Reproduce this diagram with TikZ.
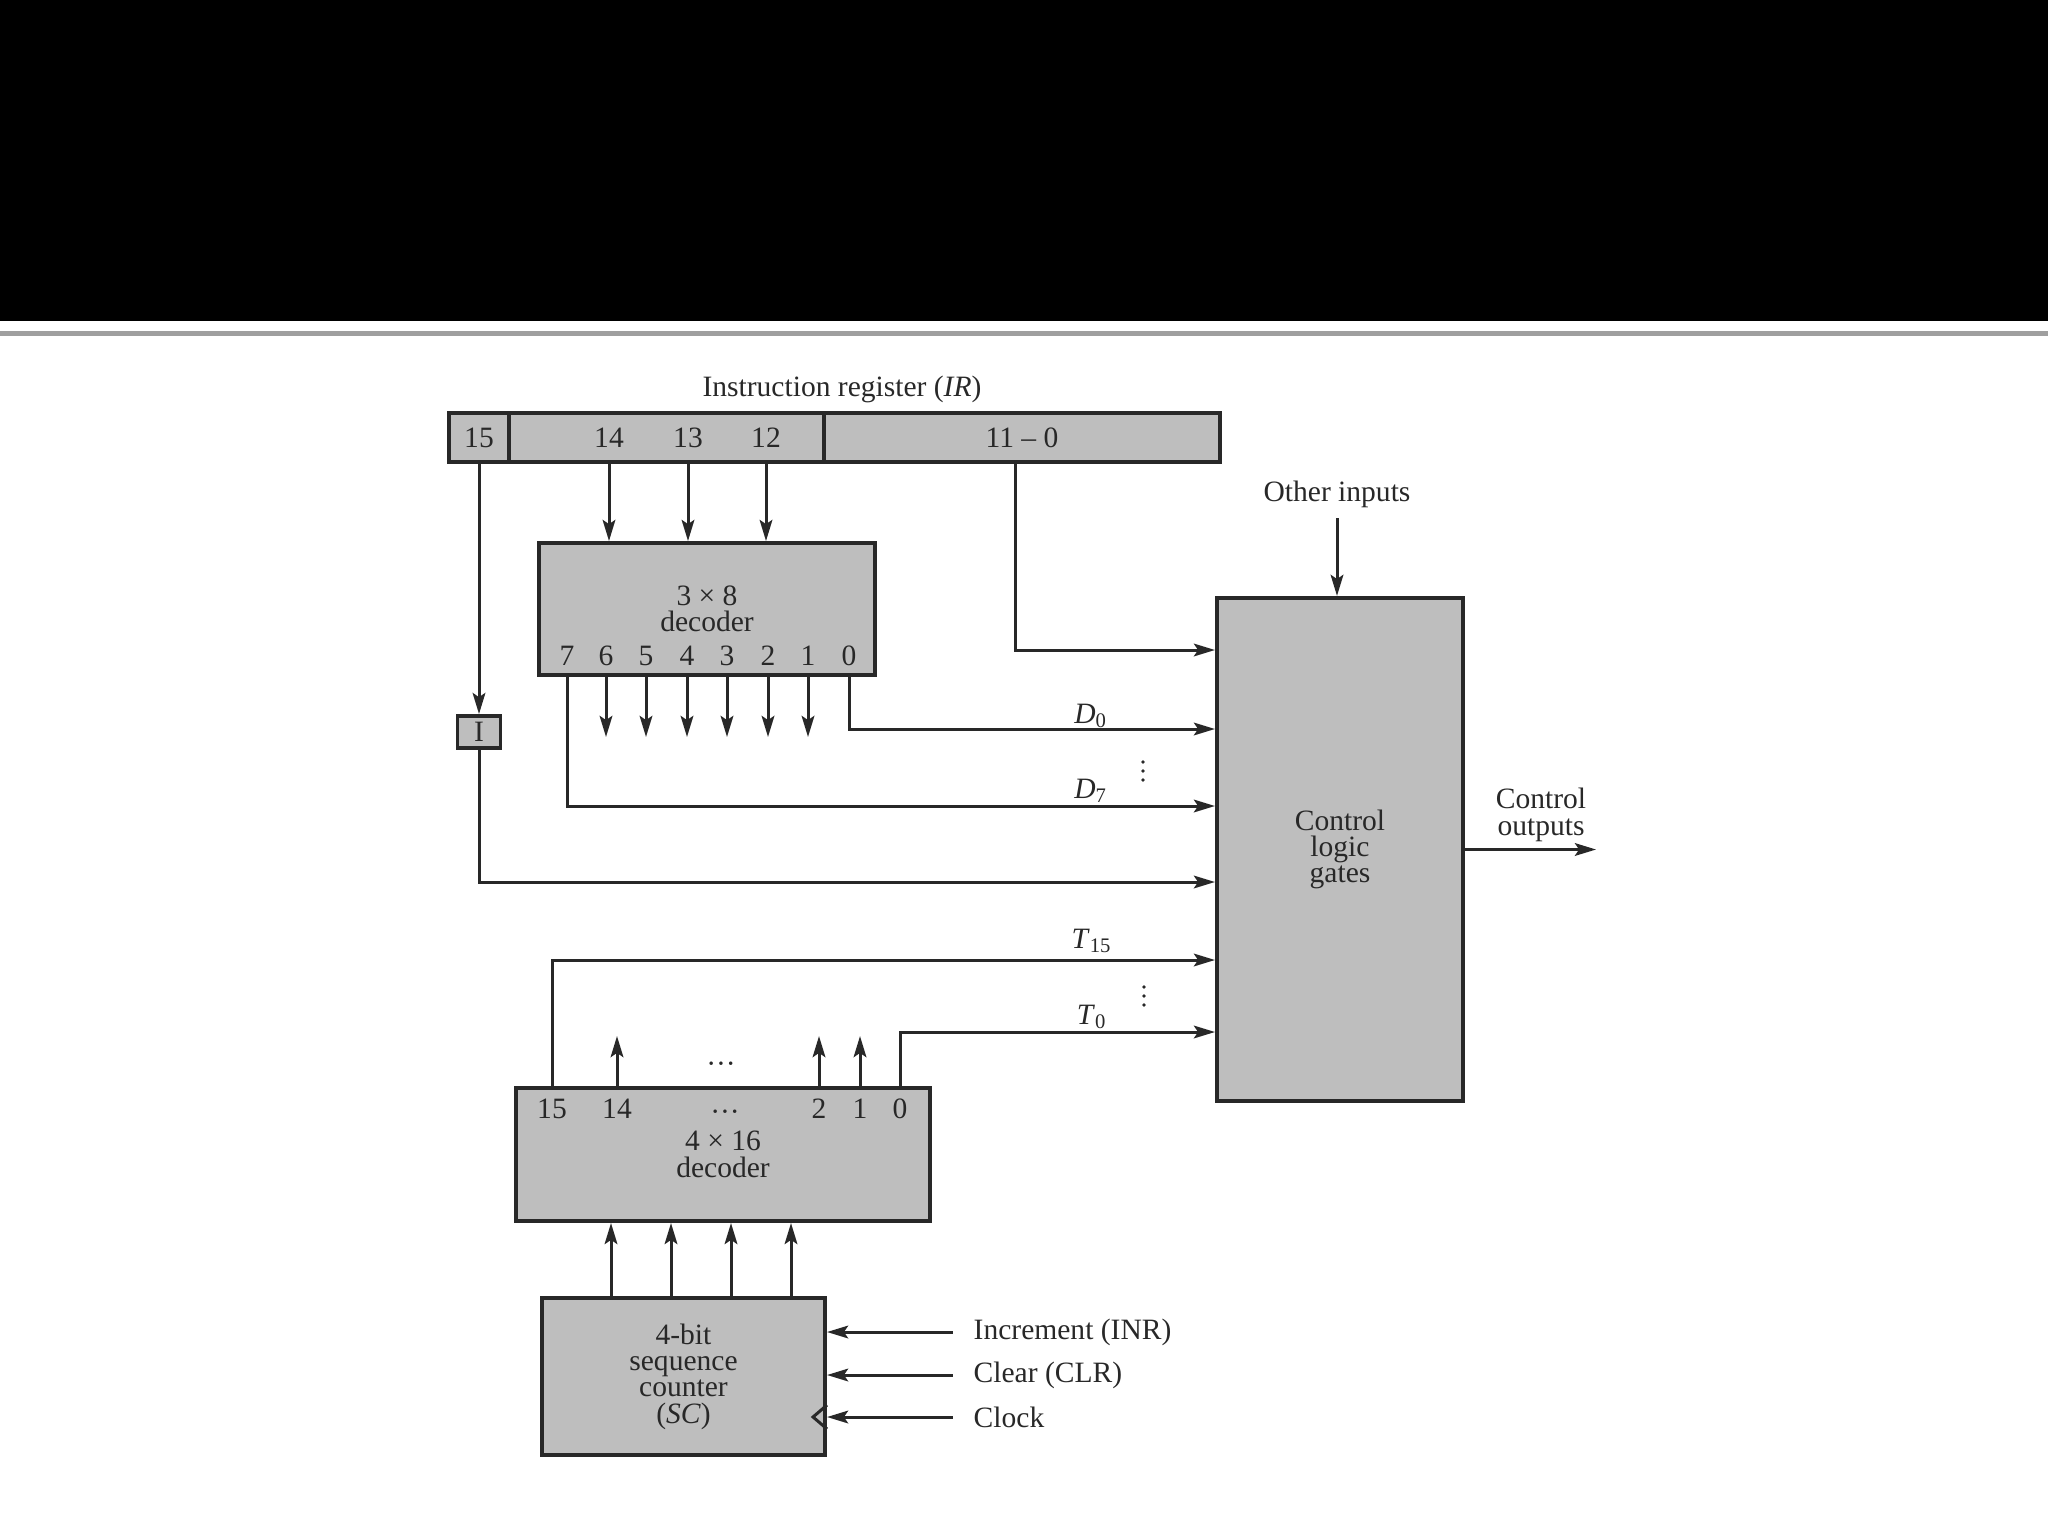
\documentclass[tikz,border=0pt]{standalone}
\usepackage{fontspec}
\setmainfont{Liberation Serif}
\usetikzlibrary{arrows.meta}
\definecolor{boxgray}{RGB}{190,190,190}
\definecolor{inkgray}{RGB}{40,40,40}
\newcommand{\figfont}{\fontsize{8.4}{7.5}\selectfont}

\begin{document}
\begin{tikzpicture}[x=0.01cm,y=-0.01cm,
  unit/.style={draw=inkgray, line width=1.1pt, fill=boxgray, inner sep=0pt, align=center, font=\figfont, text=inkgray},
  wire/.style={draw=inkgray, line width=0.85pt},
  arr/.style={wire, -{Stealth[length=6pt,width=3.6pt,inset=1.2pt]}},
  lbl/.style={inner sep=0pt, align=center, font=\figfont, text=inkgray}]
\useasboundingbox (0,0) rectangle (2048,1536);
\fill[black] (0,0) rectangle (2048,321);
\fill[gray!75] (0,331) rectangle (2048,336);
\node[lbl] (irtitle) at (842,389) {Instruction register (\textit{IR})};
\node[unit, minimum width=0.60cm, minimum height=0.49cm] (ir15) at (479,437.5) {15};
\node[unit, minimum width=3.15cm, minimum height=0.49cm] (irop) at (666.5,437.5) {};
\node[unit, minimum width=3.96cm, minimum height=0.49cm] (iradr) at (1022,437.5) {11 -- 0};
\node[lbl] (b14) at (609,438) {14};
\node[lbl] (b13) at (688,438) {13};
\node[lbl] (b12) at (766,438) {12};
\node[unit, minimum width=3.36cm, minimum height=1.32cm] (dec) at (707,609) {3 × 8\\decoder};
\node[lbl] (o7) at (567,656) {7};
\node[lbl] (o6) at (606,656) {6};
\node[lbl] (o5) at (646,656) {5};
\node[lbl] (o4) at (687,656) {4};
\node[lbl] (o3) at (727,656) {3};
\node[lbl] (o2) at (768,656) {2};
\node[lbl] (o1) at (808,656) {1};
\node[lbl] (o0) at (849,656) {0};
\node[unit, minimum width=0.43cm, minimum height=0.32cm] (iff) at (479,732) {I};
\node[unit, minimum width=2.46cm, minimum height=5.03cm] (ctl) at (1340,849.5) {Control\\logic\\gates};
\node[lbl] (oth) at (1337,494) {Other inputs};
\node[lbl] (ctlout) at (1541,815) {Control\\outputs};
\node[lbl] (dzero) at (1091,716) {\textit{D}\textsubscript{0}};
\node[lbl] (dseven) at (1091,791) {\textit{D}\textsubscript{7}};
\node[lbl] (tfift) at (1092,941) {\textit{T}\textsubscript{15}};
\node[lbl] (tzero) at (1092,1017) {\textit{T}\textsubscript{0}};
\node[unit, minimum width=4.14cm, minimum height=1.33cm] (dsix) at (723,1154.5) {4 × 16\\decoder};
\node[lbl] (p15) at (552,1109) {15};
\node[lbl] (p14) at (617,1109) {14};
\node[lbl] (pdots) at (725,1116) {···};
\node[lbl] (p2) at (819,1109) {2};
\node[lbl] (p1) at (860,1109) {1};
\node[lbl] (p0) at (900,1109) {0};
\node[lbl] (updots) at (721,1068) {···};
\node[unit, minimum width=2.83cm, minimum height=1.57cm] (cnt) at (683.5,1376.5) {4-bit\\sequence\\counter\\(\textit{SC})};
\node[lbl, anchor=west] (inr) at (973,1332) {Increment (INR)};
\node[lbl, anchor=west] (clr) at (973,1375) {Clear (CLR)};
\node[lbl, anchor=west] (clk) at (973,1417) {Clock};
\fill[inkgray] (1143,762) circle[radius=0.018cm] (1143,771) circle[radius=0.018cm] (1143,780) circle[radius=0.018cm];
\fill[inkgray] (1144,987) circle[radius=0.018cm] (1144,996) circle[radius=0.018cm] (1144,1005) circle[radius=0.018cm];
\draw[arr] (b14 |- irop.south) -- (b14 |- dec.north);
\draw[arr] (b13 |- irop.south) -- (b13 |- dec.north);
\draw[arr] (b12 |- irop.south) -- (b12 |- dec.north);
\draw[arr] ([xshift=-0.07cm]iradr.south) |- (ctl.west |- 0,650);
\draw[arr] (ir15.south) -- (iff.north);
\draw[arr] (iff.south) |- (ctl.west |- 0,882);
\draw[arr] (o6 |- dec.south) -- ++(0,60);
\draw[arr] (o5 |- dec.south) -- ++(0,60);
\draw[arr] (o4 |- dec.south) -- ++(0,60);
\draw[arr] (o3 |- dec.south) -- ++(0,60);
\draw[arr] (o2 |- dec.south) -- ++(0,60);
\draw[arr] (o1 |- dec.south) -- ++(0,60);
\draw[arr] (o0 |- dec.south) |- (ctl.west |- 0,729);
\draw[arr] (o7 |- dec.south) |- (ctl.west |- 0,806);
\draw[arr] (oth.south |- 0,518) -- (oth.south |- ctl.north);
\draw[arr] (ctl.east) -- ++(131,0);
\draw[arr] (p15 |- dsix.north) |- (ctl.west |- 0,960);
\draw[arr] (p0 |- dsix.north) |- (ctl.west |- 0,1032);
\draw[arr] (p14 |- dsix.north) -- ++(0,-50);
\draw[arr] (p2 |- dsix.north) -- ++(0,-50);
\draw[arr] (p1 |- dsix.north) -- ++(0,-50);
\draw[arr] (611,0 |- cnt.north) -- (611,0 |- dsix.south);
\draw[arr] (671,0 |- cnt.north) -- (671,0 |- dsix.south);
\draw[arr] (731,0 |- cnt.north) -- (731,0 |- dsix.south);
\draw[arr] (791,0 |- cnt.north) -- (791,0 |- dsix.south);
\draw[arr] ([xshift=-0.2cm]inr.west) -- (cnt.east |- inr.west);
\draw[arr] ([xshift=-0.2cm]clr.west) -- (cnt.east |- clr.west);
\draw[arr] ([xshift=-0.2cm]clk.west) -- (cnt.east |- clk.west);
\draw[wire] ([yshift=0.12cm]cnt.east |- clk.west) -- ++(-14,12) -- ++(14,12);
\end{tikzpicture}
\end{document}
